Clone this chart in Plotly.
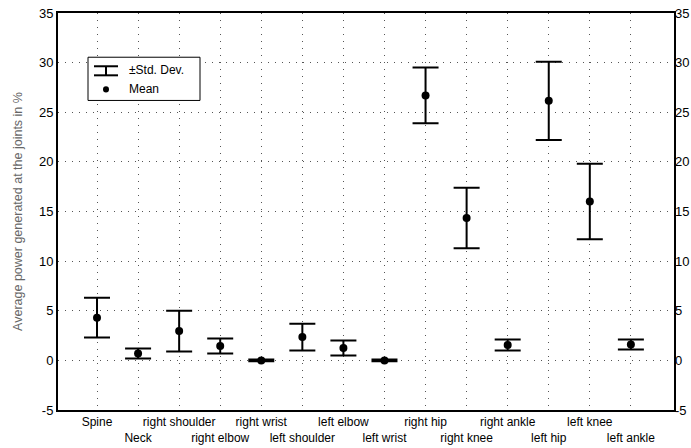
import plotly.graph_objects as go

joints = ["Spine", "Neck", "right shoulder", "right elbow", "right wrist",
          "left shoulder", "left elbow", "left wrist", "right hip", "right knee",
          "right ankle", "left hip", "left knee", "left ankle"]
mean_vals = [4.3, 0.7, 2.95, 1.45, 0.0, 2.35, 1.25, 0.0, 26.7, 14.35, 1.55, 26.15, 16.0, 1.6]
std_vals = [2.0, 0.5, 2.05, 0.75, 0.1, 1.35, 0.75, 0.1, 2.8, 3.05, 0.55, 3.95, 3.8, 0.5]
y_ticks = [-5, 0, 5, 10, 15, 20, 25, 30, 35]
y_ticklabels = ["-5", "0", "5", "10", "15", "20", "25", "30", "35"]

xpos = list(range(len(joints)))
ticktext = [j if i % 2 == 0 else "<br>" + j for i, j in enumerate(joints)]

font = "Liberation Sans, Arial, sans-serif"
grid_dash = "1px,6px"

fig = go.Figure()
fig.add_trace(go.Scatter(
    x=xpos, y=mean_vals, mode="markers",
    marker=dict(color="black", size=8),
    error_y=dict(type="data", array=std_vals, visible=True,
                 color="black", thickness=2, width=13),
    showlegend=False))
# invisible trace to activate right axis
fig.add_trace(go.Scatter(x=[xpos[0]], y=[mean_vals[0]], yaxis="y2",
                         mode="markers", marker=dict(opacity=0), showlegend=False,
                         hoverinfo="skip"))

fig.update_layout(
    width=691, height=448,
    margin=dict(l=58, r=17, t=13, b=38),
    paper_bgcolor="white", plot_bgcolor="white",
    font=dict(family=font, size=11, color="black"),
    xaxis=dict(range=[-0.95, 14.05], tickvals=xpos, ticktext=ticktext, tickangle=0,
               showgrid=True, gridcolor="#555", griddash=grid_dash, gridwidth=1,
               showline=True, linecolor="black", linewidth=1.5, mirror=True,
               ticks="", zeroline=False, automargin=False,
               tickfont=dict(size=12)),
    yaxis=dict(range=[-5, 35], tickvals=y_ticks, ticktext=y_ticklabels,
               showgrid=True, gridcolor="#555", griddash=grid_dash, gridwidth=1,
               showline=True, linecolor="black", linewidth=2, mirror=True,
               ticks="", zeroline=False, automargin=False,
               tickfont=dict(size=13),
               title=dict(text="Average power generated at the joints in %",
                          font=dict(size=12.5, color="#666"), standoff=14)),
    yaxis2=dict(range=[-5, 35], tickvals=y_ticks, ticktext=y_ticklabels,
                overlaying="y", side="right",
                showgrid=False, zeroline=False, showline=False, ticks="",
                automargin=False, tickfont=dict(size=13)),
)

# custom legend
fig.add_shape(type="rect", xref="paper", yref="paper",
              x0=(88 - 58) / 616, x1=(200 - 58) / 616,
              y0=(408 - 100) / 395, y1=(408 - 57) / 395,
              line=dict(color="black", width=1), fillcolor="white")
lx = (106 - 58) / 616
hw = 12 / 616
yt = (408 - 66) / 395
yb = (408 - 75) / 395
for (x0, x1, y0, y1) in [(lx - hw, lx + hw, yt, yt), (lx - hw, lx + hw, yb, yb), (lx, lx, yb, yt)]:
    fig.add_shape(type="line", xref="paper", yref="paper", x0=x0, x1=x1, y0=y0, y1=y1,
                  line=dict(color="black", width=2))
fig.add_shape(type="circle", xref="paper", yref="paper",
              x0=lx - 3 / 616, x1=lx + 3 / 616,
              y0=(408 - 92) / 395, y1=(408 - 86) / 395,
              fillcolor="black", line=dict(color="black", width=0))
fig.add_annotation(xref="paper", yref="paper", x=(127 - 58) / 616, y=(408 - 70) / 395,
                   text="±Std. Dev.", showarrow=False, xanchor="left", yanchor="middle",
                   font=dict(size=12, color="black"))
fig.add_annotation(xref="paper", yref="paper", x=(127 - 58) / 616, y=(408 - 89) / 395,
                   text="Mean", showarrow=False, xanchor="left", yanchor="middle",
                   font=dict(size=12, color="black"))

fig.write_html("out.html", config={"displayModeBar": False},
               post_script="document.body.style.margin='0';window.dispatchEvent(new Event('resize'));")
